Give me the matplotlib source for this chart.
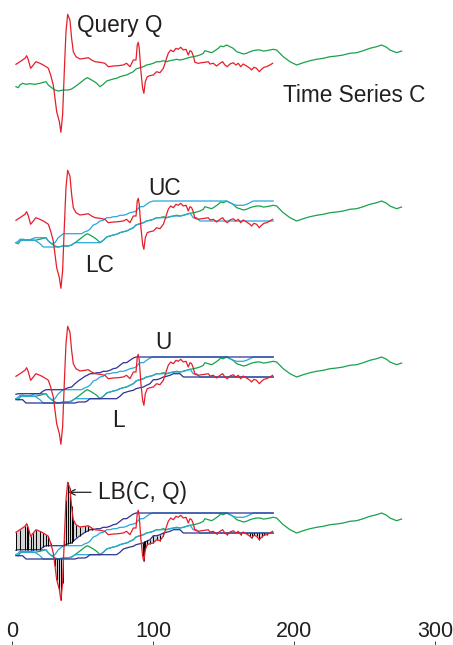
import numpy as np
import matplotlib
matplotlib.use("Agg")
import matplotlib.pyplot as plt

# query Q (red)
q_t = [2.6, 5.4, 9.0, 10.2, 11.4, 13.0, 14.9, 16.8, 19.6, 22.0, 23.9, 25.6, 27.2, 29.1, 30.3, 31.5,
       33.4, 34.5, 35.7, 36.9, 38.1, 39.3, 40.9, 42.1, 43.3, 45.2, 48.0, 51.6, 53.9, 56.3, 58.7, 62.2,
       65.8, 68.1, 71.7, 75.2, 78.8, 81.1, 83.5, 85.9, 87.8, 88.7, 89.4, 90.1, 91.3, 92.5, 93.4, 94.4,
       95.8, 97.7, 100.1, 102.4, 104.8, 107.2, 108.4, 109.5, 110.7, 112.4, 114.3, 116.2, 117.8, 119.5,
       121.4, 123.3, 124.9, 126.1, 127.3, 128.5, 129.6, 132.0, 134.4, 136.7, 139.1, 140.3, 142.7, 145.0,
       147.4, 149.3, 150.9, 152.6, 154.5, 156.8, 158.7, 160.4, 162.1, 163.9, 166.3, 168.7, 169.9, 171.5,
       173.4, 175.3, 176.9, 178.6, 180.5, 182.8, 184.8]
q_v = [75.7, 78.3, 81.7, 84.3, 80.0, 71.7, 75.0, 78.3, 76.7, 75.0, 73.3, 71.7, 65.0, 55.0, 41.7, 28.3,
       18.3, 7.7, 25.0, 68.3, 108.3, 125.7, 120.0, 101.7, 88.3, 83.3, 81.0, 81.7, 82.3, 80.0, 78.3, 77.7,
       76.7, 73.3, 74.0, 74.3, 75.0, 76.7, 73.3, 80.0, 80.0, 95.0, 97.7, 91.7, 68.3, 51.7, 46.7, 58.3,
       63.3, 64.3, 65.0, 68.3, 67.3, 71.7, 76.7, 81.7, 86.7, 90.0, 88.3, 91.7, 90.7, 92.7,
       90.0, 90.7, 85.0, 89.3, 88.3, 84.0, 77.7, 76.7, 77.3, 77.7, 78.3, 76.0, 76.7, 74.0,
       76.7, 78.3, 75.0, 73.3, 76.0, 77.3, 75.0, 76.7, 73.3, 76.0, 74.0, 71.7, 70.0, 72.7,
       71.7, 68.3, 70.7, 72.7, 73.3, 75.0, 76.7]

# time series C (green)
c_t = [2.6, 4.3, 5.4, 7.3, 9.7, 12.5, 16.1, 19.6, 22.0, 23.9, 25.6, 27.9, 30.3, 32.6, 36.2, 39.7,
       42.1, 44.5, 46.8, 49.2, 51.6, 53.2, 55.1, 57.5, 59.9, 62.2, 64.6, 67.0, 69.3, 71.7, 74.0, 76.4,
       78.8, 81.1, 83.5, 85.9, 87.8, 90.6, 93.0, 95.3, 97.7, 100.1, 102.4, 104.8, 107.2, 109.5, 111.9,
       114.3, 116.6, 119.0, 121.4, 123.7, 126.1, 128.5, 130.8, 133.2, 135.6, 136.7, 139.1, 141.5, 143.8,
       146.2, 147.9, 149.8, 152.1, 154.5, 156.8, 159.2, 161.6, 163.9, 166.3, 168.7, 171.0, 173.4, 175.8,
       178.1, 180.5, 182.8, 185.2, 187.6, 192.3, 197.1, 201.8, 206.5, 211.3, 216.0, 220.7, 225.5, 230.2,
       234.9, 239.6, 244.4, 249.1, 253.8, 258.6, 262.1, 265.7, 268.0, 272.8, 276.3]
c_v = [53.3, 52.3, 55.0, 56.7, 55.7, 56.3, 55.7, 56.7, 57.7, 58.3, 55.0, 52.3, 50.0, 49.0, 50.0, 50.0,
       51.0, 53.3, 55.7, 58.3, 61.0, 62.3, 61.0, 59.0, 56.7, 53.3, 55.7, 59.0, 60.0, 61.0, 61.7, 63.3,
       64.3, 65.0, 66.7, 68.3, 71.0, 72.3, 73.3, 75.0, 75.7, 76.7, 78.3, 78.3, 79.3, 78.3, 79.3,
       80.0, 80.7, 80.0, 80.7, 81.7, 82.7, 83.3, 84.0, 85.0, 86.7, 89.3, 88.3, 87.3, 89.3,
       91.7, 94.0, 93.3, 95.0, 93.3, 91.7, 88.3, 87.3, 86.0, 86.7, 88.3, 89.3, 90.0, 90.0,
       89.0, 89.3, 90.0, 90.7, 90.0, 83.3, 78.3, 75.0, 77.3, 79.3, 80.7, 81.7, 83.3, 84.0,
       85.0, 86.7, 87.3, 89.3, 91.7, 93.3, 95.0, 92.7, 90.0, 87.3, 89.0]

scale_max = 1.54   # uniform scaling range
warp = 12          # warping window

red = "#e61e2a"
green = "#17a24b"
cyan = "#2aa7dc"
navy = "#2e3192"
ink = "#231f20"

q_t = np.array(q_t); q_v = np.array(q_v)
c_t = np.array(c_t); c_v = np.array(c_v)


def envelope(lo, hi):
    m = (c_t >= lo) & (c_t <= hi)
    return c_v[m].max(), c_v[m].min()


# envelopes over the length of Q
et = c_t[c_t <= q_t[-1] + 0.5]
uc = np.array([envelope(t, scale_max * t)[0] for t in et])
lc = np.array([envelope(t, scale_max * t)[1] for t in et])
u = np.array([envelope(t - warp, scale_max * (t + warp))[0] for t in et])
l = np.array([envelope(t - warp, scale_max * (t + warp))[1] for t in et])
uq = np.array([envelope(t - warp, scale_max * (t + warp))[0] for t in q_t])
lq = np.array([envelope(t - warp, scale_max * (t + warp))[1] for t in q_t])

fig = plt.figure(figsize=(4.53, 6.45), dpi=100)
ax = fig.add_axes([0, 0, 1, 1])
lw = 0.9
offsets = [0, -156, -312, -468]

for k, off in enumerate(offsets):
    ax.plot(c_t, c_v + off, color=green, lw=lw, zorder=2)
    if k >= 1:
        ax.plot(et, uc + off, color=cyan, lw=lw, zorder=3)
        ax.plot(et, lc + off, color=cyan, lw=lw, zorder=3)
    if k >= 2:
        ax.plot(et, u + off, color=navy, lw=lw, zorder=4)
        ax.plot(et, l + off, color=navy, lw=lw, zorder=4)
    if k == 3:
        above = q_v > uq
        below = q_v < lq
        ax.fill_between(q_t, uq + off, q_v + off, where=above, interpolate=True,
                        color="#d4d4d4", lw=0, zorder=1)
        ax.fill_between(q_t, lq + off, q_v + off, where=below, interpolate=True,
                        color="#d4d4d4", lw=0, zorder=1)
        ax.vlines(q_t[above], uq[above] + off, q_v[above] + off, color="black", lw=0.7, zorder=5)
        ax.vlines(q_t[below], q_v[below] + off, lq[below] + off, color="black", lw=0.7, zorder=5)
    ax.plot(q_t, q_v + off, color=red, lw=lw, zorder=6)

ax.set_xlim(-8.73, 312.8)
ax.set_ylim(-505, 140)
for s in ax.spines.values():
    s.set_visible(False)
ax.set_yticks([])
ax.set_xticks([0, 100, 200, 300])
ax.tick_params(axis="x", direction="in", length=3, width=0.6, color=ink,
               pad=-17.5, labelsize=15.5, labelcolor=ink)
for lab in ax.get_xticklabels():
    lab.set_family("Liberation Sans")

W, H = 453, 645
fs = 16.3


def put(s, px, py):
    fig.text(px / W, 1 - py / H, s, fontsize=fs, family="Liberation Sans",
             color=ink, ha="left", va="baseline")


put("Query Q", 77, 31.7)
put("Time Series C", 282.7, 101.7)
put("UC", 148, 195)
put("LC", 85, 271.7)
put("U", 155, 349.3)
put("L", 112, 426.7)
put("LB(C, Q)", 98.3, 499.3)
ax.annotate("", xy=(68.3, H - 492.3), xytext=(91, H - 492.3), xycoords="figure pixels",
            textcoords="figure pixels",
            arrowprops=dict(arrowstyle="->", lw=0.9, color=ink, shrinkA=0, shrinkB=0))

fig.savefig("out.png", dpi=100)
